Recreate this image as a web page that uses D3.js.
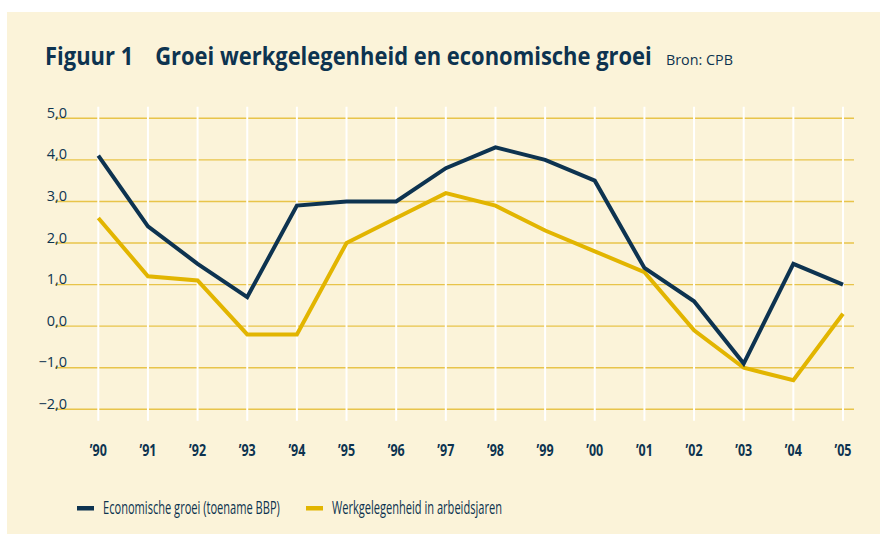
<!DOCTYPE html>
<html><head><meta charset="utf-8">
<script src="https://cdn.jsdelivr.net/npm/d3@7"></script>
<style>
body{margin:0;background:#fff;}
svg{display:block;}
text{font-family:"Open Sans","Noto Sans",sans-serif;fill:#0d3350;}
</style></head>
<body><svg id="c" width="880" height="534"></svg>
<script>
const years = ["’90","’91","’92","’93","’94","’95","’96","’97","’98","’99","’00","’01","’02","’03","’04","’05"];
const economischeGroei = [4.1,2.4,1.5,0.7,2.9,3.0,3.0,3.8,4.3,4.0,3.5,1.4,0.6,-0.9,1.5,1.0];
const werkgelegenheid = [2.6,1.2,1.1,-0.2,-0.2,2.0,2.6,3.2,2.9,2.3,1.8,1.3,-0.1,-1.0,-1.3,0.3];
const yTicks = [5,4,3,2,1,0,-1,-2];
const yTickLabels = ["5,0","4,0","3,0","2,0","1,0","0,0","\u22121,0","\u22122,0"];
const seriesNames = ["Economische groei (toename BBP)","Werkgelegenheid in arbeidsjaren"];

const navy="#0d3350", gold="#e2b500", bg="#fbf3d9";
const svg=d3.select("#c");
svg.append("rect").attr("x",7).attr("y",12).attr("width",873).attr("height",522).attr("fill",bg);

const x=d3.scalePoint().domain(years).range([98.3,843]);
const y=d3.scaleLinear().domain([-2,5]).range([409.3,118.3]);

// place text condensed horizontally to a target width (left-anchored)
function fit(sel, px, py, target){
  sel.each(function(){
    const w=this.getComputedTextLength();
    const k=target/w;
    d3.select(this).attr("x",0).attr("y",0)
      .attr("transform",`translate(${px},${py}) scale(${k},1)`);
  });
}

svg.append("g").selectAll("line").data(yTicks).join("line")
  .attr("x1",55).attr("x2",854)
  .attr("y1",d=>y(d)).attr("y2",d=>y(d))
  .attr("stroke","#e8c44a").attr("stroke-width",1.4);
svg.append("g").selectAll("line").data(years).join("line")
  .attr("x1",d=>x(d)).attr("x2",d=>x(d))
  .attr("y1",106.7).attr("y2",420.7)
  .attr("stroke","#ffffff").attr("stroke-width",2);

svg.append("g").selectAll("text").data(yTicks).join("text")
  .attr("x",67).attr("y",d=>y(d)-0.5).attr("text-anchor","end")
  .attr("font-size",14.5).text((d,i)=>yTickLabels[i]);

svg.append("g").selectAll("text").data(years).join("text")
  .attr("font-size",16.5).attr("font-weight","bold").text(d=>d)
  .each(function(d){ fit(d3.select(this), x(d)-8.5, 456, 17); });

const line=d3.line().x((d,i)=>x(years[i])).y(d=>y(d));
svg.append("path").datum(werkgelegenheid).attr("d",line).attr("fill","none")
  .attr("stroke",gold).attr("stroke-width",4).attr("stroke-linejoin","miter");
svg.append("path").datum(economischeGroei).attr("d",line).attr("fill","none")
  .attr("stroke",navy).attr("stroke-width",4).attr("stroke-linejoin","miter");

const title=svg.append("text").attr("font-size",25).attr("font-weight","bold")
  .text("Figuur 1\u2002\u2002Groei werkgelegenheid en economische groei");
fit(title,45,65,607);
const bron=svg.append("text").attr("font-size",15).text("Bron: CPB");
fit(bron,666,65,67);

const leg=[{name:seriesNames[0],c:navy,x:77,tl:177},{name:seriesNames[1],c:gold,x:306,tl:170}];
const lg=svg.append("g").selectAll("g").data(leg).join("g");
lg.append("rect").attr("x",d=>d.x).attr("y",506).attr("width",17).attr("height",4.5).attr("fill",d=>d.c);
lg.append("text").attr("font-size",18).text(d=>d.name)
  .each(function(d){ fit(d3.select(this), d.x+26, 514, d.tl); });
</script></body></html>
